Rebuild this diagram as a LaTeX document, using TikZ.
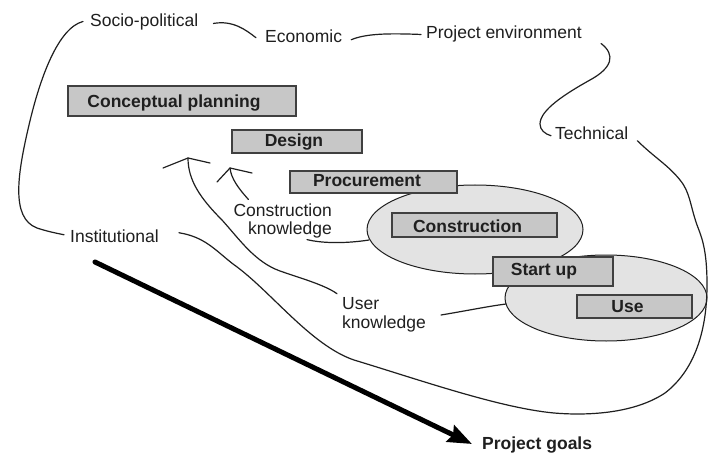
\documentclass[tikz,border=0pt]{standalone}
\usepackage{fontspec}
\setmainfont{Liberation Sans}
\usetikzlibrary{arrows.meta,shapes.geometric,calc}
\definecolor{boxgray}{gray}{0.78}
\definecolor{ellgray}{gray}{0.89}
\definecolor{ink}{gray}{0.12}
\begin{document}
\begin{tikzpicture}[x=1pt,y=-1pt,
  lbl/.style={font=\fontsize{17.5}{18.5}\selectfont, inner sep=0pt, text=ink},
  boxshape/.style={rectangle, draw=black!75, fill=boxgray, line width=1.3pt, inner sep=0pt},
  btxt/.style={font=\fontsize{17.5}{19}\selectfont\bfseries, inner sep=0pt, text=ink, anchor=base},
  ellshape/.style={ellipse, draw=ink, fill=ellgray, line width=1pt, inner sep=0pt},
  wire/.style={draw=ink, line width=1.2pt, line cap=round, line join=round},
]
\useasboundingbox[fill=white] (0,0) rectangle (708,454);

% ellipses
\node[ellshape, minimum width=216, minimum height=89] (e1) at (475,229.5) {};
\node[ellshape, minimum width=202, minimum height=86] (e2) at (606,298) {};

% boxes
\node[boxshape, minimum width=228, minimum height=30] (cp) at (182,101) {};
\node[btxt] (cpt) at (174,108) {Conceptual planning};
\node[boxshape, minimum width=130, minimum height=23] (design) at (297,141.5) {};
\node[btxt] (designt) at (294,147) {Design};
\node[boxshape, minimum width=167, minimum height=22] (proc) at (373.5,182) {};
\node[btxt] (proct) at (367,187) {Procurement};
\node[boxshape, minimum width=165, minimum height=24] (constr) at (474.5,225) {};
\node[btxt] (constrt) at (467.5,232) {Construction};
\node[boxshape, minimum width=120, minimum height=29] (startup) at (553,271.5) {};
\node[btxt] (startupt) at (544,275) {Start up};
\node[boxshape, minimum width=115, minimum height=23] (use) at (634.5,306.5) {};
\node[btxt] (uset) at (627.5,312) {Use};

% labels
\node[lbl, anchor=base west] (socio) at (90,27) {Socio-political};
\node[lbl, anchor=base west] (econ) at (265,43) {Economic};
\node[lbl, anchor=base west] (projenv) at (426,39) {Project environment};
\node[lbl, anchor=base west] (tech) at (555,140) {Technical};
\node[lbl, anchor=base west] (inst) at (70,242) {Institutional};
\node[lbl, anchor=east, align=right] (conkn) at (332,221) {Construction\\knowledge};
\node[lbl, anchor=west, align=left] (userkn) at (342,315) {User\\knowledge};
\node[font=\fontsize{17.5}{19}\selectfont\bfseries, inner sep=0pt, text=ink, anchor=base west] (goals) at (482,449.5) {Project goals};

% environment ring
\draw[wire] ($(socio.west)+(-7,-1)$) .. controls (58,28) and (40,78) .. (29,125)
  .. controls (18,172) and (10,218) .. (37,228)
  .. controls (46,231) and (55,233) .. ($(inst.west)+(-6,-1)$);
\draw[wire] ($(socio.east)+(15,1)$) .. controls (233,20) and (246,30) .. ($(econ.west)+(-9,1)$);
\draw[wire] ($(econ.east)+(9,3)$) .. controls (365,34) and (385,33) .. ($(projenv.west)+(-5,0)$);
\draw[wire] ($(projenv.east)+(19,9)$) .. controls (616,55) and (612,68) .. (590,80)
  .. controls (565,94) and (540,110) .. (540,124)
  .. controls (540,130) and (545,134) .. ($(tech.west)+(-4,2)$);
\draw[wire] ($(tech.east)+(9,7)$) .. controls (655,158) and (668,165) .. (680,180)
  .. controls (690,192) and (690,205) .. (697,225)
  .. controls (702,238) and (707,250) .. (707,285)
  .. controls (707,330) and (695,370) .. (665,393)
  .. controls (635,413) and (590,416) .. (554,413)
  .. controls (500,408) and (420,380) .. (354,360)
  .. controls (310,345) and (270,290) .. (233,264)
  .. controls (215,250) and (205,237) .. ($(inst.east)+(20,-3)$);

% knowledge feedback arrows
\coordinate (ukhead) at (188,158);
\draw[wire] ($(userkn.north west)+(-5,-4)$) .. controls (325,285) and (300,278) .. (280,271)
  .. controls (255,262) and (240,240) .. (222,220)
  .. controls (200,198) and (188,180) .. (ukhead);
\draw[wire] (163,168) -- (ukhead) -- (210,163);
\coordinate (ckhead) at (230,168);
\draw[wire] ($(conkn.north west)+(15,-4)$) .. controls (238,188) and (231,178) .. (ckhead);
\draw[wire] (217,182) -- (ckhead) -- (252,173);

% knowledge links to phases
\draw[wire] ($(conkn.south east)+(-25,1)$) .. controls (325,244) and (350,243) .. (369,240);
\draw[wire] ($(userkn.east)+(15,0)$) .. controls (465,311) and (490,306) .. (506,304);

% project goals arrow
\coordinate (gstart) at (95,262);
\coordinate (gtip) at (472,444);
\draw[draw=black, line width=5pt, line cap=round,
  -{Stealth[length=24pt, width=18pt, inset=3pt]}]
  (gstart) -- (gtip);
\end{tikzpicture}
\end{document}
